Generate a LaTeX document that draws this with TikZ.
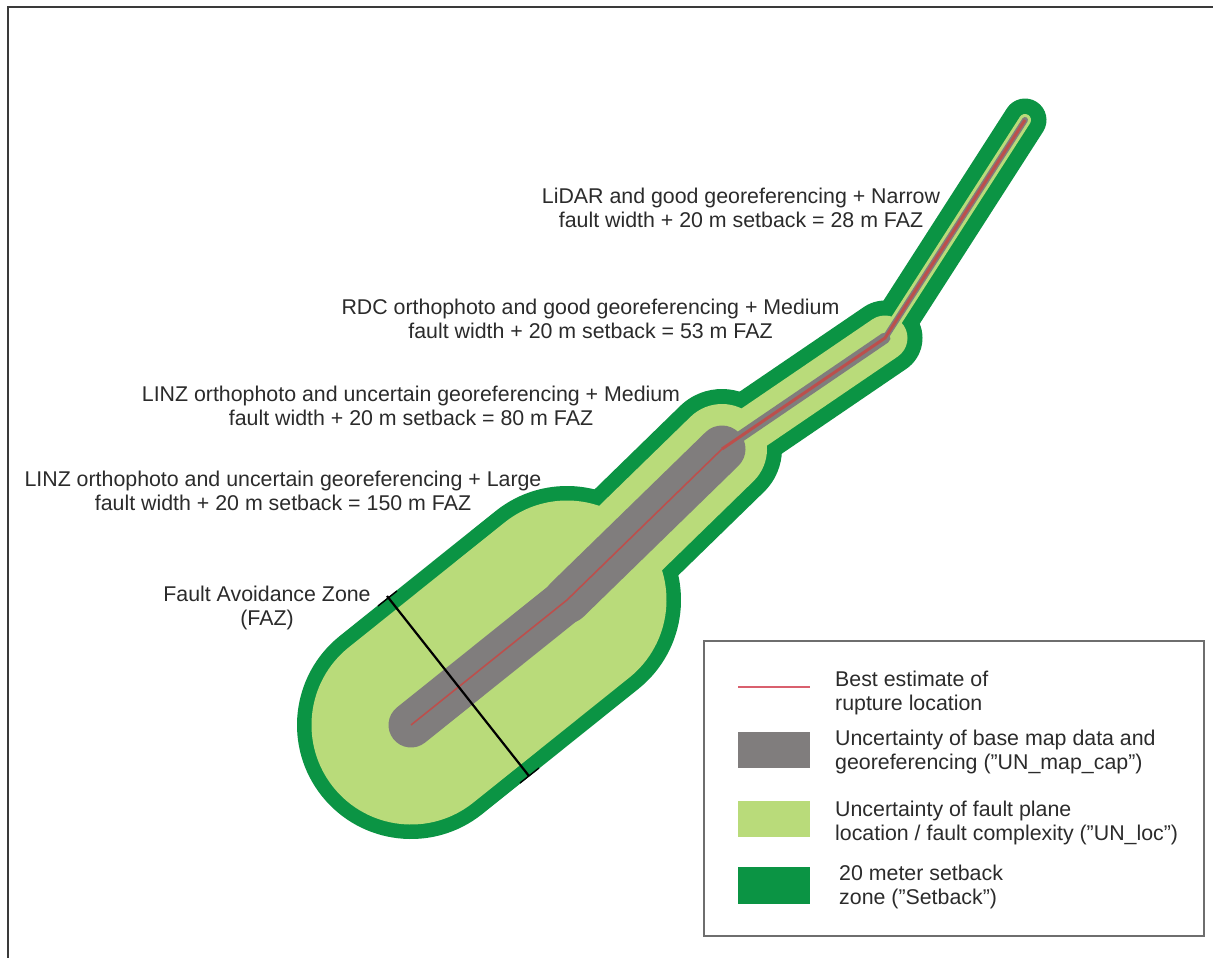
\documentclass[tikz,border=0pt]{standalone}
\usepackage{fontspec}
\setmainfont{Liberation Sans}
\definecolor{setback}{HTML}{0B9444}
\definecolor{unloc}{HTML}{B9DB7A}
\definecolor{unmap}{HTML}{807D7D}
\definecolor{rupture}{HTML}{BC4F4C}
\definecolor{legendred}{HTML}{D9606E}
\definecolor{frameline}{HTML}{3A3A3A}
\definecolor{boxline}{HTML}{6E6E6E}
\definecolor{txt}{HTML}{2B2B2B}
\tikzset{
  x=1pt,y=-1pt,
  buffer/.style={line cap=round,line join=round},
  label text/.style={anchor=center,align=center,inner sep=0pt,text=txt,font=\fontsize{21.35}{24}\selectfont},
  legend text/.style={label text,anchor=west,align=left},
  swatch/.style={draw=none,inner sep=0pt,minimum width=72pt,anchor=north west},
}
\begin{document}
\begin{tikzpicture}
\useasboundingbox (0,0) rectangle (1213,958);
\fill[white] (0,0) rectangle (1213,958);
\draw[frameline,line width=2pt] (7.5,958) -- (7.5,7.5) -- (1213,7.5);
\coordinate (p0) at (411,725);
\coordinate (p1) at (567,600);
\coordinate (p2) at (722,449);
\coordinate (p3) at (885,338);
\coordinate (p4) at (1025,120);
% setback
\draw[buffer,setback,line width=228pt] (p0) -- (p1);
\draw[buffer,setback,line width=120pt] (p1) -- (p2);
\draw[buffer,setback,line width=75pt] (p2) -- (p3);
\draw[buffer,setback,line width=43pt] (p3) -- (p4);
% location uncertainty
\draw[buffer,unloc,line width=199pt] (p0) -- (p1);
\draw[buffer,unloc,line width=90pt] (p1) -- (p2);
\draw[buffer,unloc,line width=45pt] (p2) -- (p3);
\draw[buffer,unloc,line width=12pt] (p3) -- (p4);
% map uncertainty
\draw[buffer,unmap,line width=45pt] (p0) -- (p1);
\draw[buffer,unmap,line width=47pt] (p1) -- (p2);
\draw[buffer,unmap,line width=11pt] (p2) -- (p3);
\draw[buffer,unmap,line width=6pt] (p3) -- (p4);
% rupture
\draw[rupture,line width=1.6pt,line join=round] (p0) -- (p1) -- (p2);
\draw[rupture,line width=3pt,line join=round] (p2) -- (p3) -- (p4);
% FAZ measure
\coordinate (fa) at (387,596);
\coordinate (fb) at (529,776);
\coordinate (ta1) at (378,606);
\coordinate (ta2) at (397,591);
\coordinate (tb1) at (520,783);
\coordinate (tb2) at (539,768);
\draw[black,line width=2.2pt] (fa) -- (fb);
\draw[black,line width=1.4pt] (ta1) -- (ta2);
\draw[black,line width=1.4pt] (tb1) -- (tb2);
% labels
\node[label text] (lidar) at (741,208) {LiDAR and good georeferencing + Narrow\\fault width + 20 m setback = 28 m FAZ};
\node[label text] (rdc) at (590.5,319) {RDC orthophoto and good georeferencing + Medium\\fault width + 20 m setback = 53 m FAZ};
\node[label text] (linzm) at (411,406) {LINZ orthophoto and uncertain georeferencing + Medium\\fault width + 20 m setback = 80 m FAZ};
\node[label text] (linzl) at (283,491) {LINZ orthophoto and uncertain georeferencing + Large\\fault width + 20 m setback = 150 m FAZ};
\node[label text] (faz) at (267,608) {Fault Avoidance Zone\\(FAZ)};
% legend
\node[draw=boxline,line width=1.6pt,inner sep=0pt,minimum width=500pt,minimum height=295pt,anchor=north west] (legend) at (703,640) {};
\coordinate (la) at (738,687);
\coordinate (lb) at (810,687);
\draw[legendred,line width=1.3pt] (la) -- (lb);
\node[swatch,fill=unmap,minimum height=36pt] (s1) at (738,732) {};
\node[swatch,fill=unloc,minimum height=36pt] (s2) at (738,801) {};
\node[swatch,fill=setback,minimum height=37pt] (s3) at (738,867) {};
\node[legend text] (t0) at (835,693) {Best estimate of\\rupture location};
\node[legend text] (t1) at (835,752) {Uncertainty of base map data and\\georeferencing (”UN\_map\_cap”)};
\node[legend text] (t2) at (835,823) {Uncertainty of fault plane\\location / fault complexity (”UN\_loc”)};
\node[legend text] (t3) at (839,887) {20 meter setback\\zone (”Setback”)};
\end{tikzpicture}
\end{document}
